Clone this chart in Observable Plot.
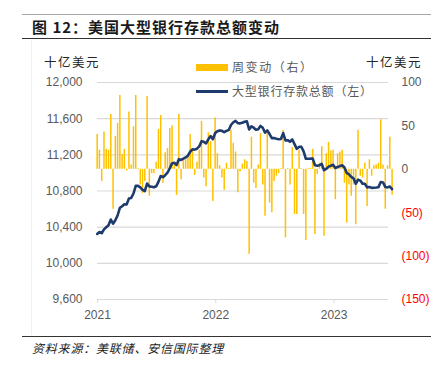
<!DOCTYPE html>
<html>
<head>
<meta charset="utf-8">
<script src="https://cdn.jsdelivr.net/npm/d3@7"></script>
<script src="https://cdn.jsdelivr.net/npm/@observablehq/plot@0.6"></script>
<style>
  html, body { margin: 0; padding: 0; background: #ffffff; }
  #wrap { position: relative; width: 431px; height: 371px; overflow: hidden; font-family: "Noto Sans CJK SC", sans-serif; }
  .abs { position: absolute; white-space: nowrap; }
  #chart { position: absolute; left: 0; top: 0; }
</style>
</head>
<body>
<div id="wrap">
  <div class="abs" style="left:22px;top:14px;width:409px;height:0;border-top:1.5px solid #a6a6a6;"></div>
  <div class="abs" id="title" style="left:32px;top:16px;font-size:15px;font-weight:bold;color:#1a1a1a;letter-spacing:1px;line-height:22px;">图 12：美国大型银行存款总额变动</div>
  <div class="abs" style="left:22px;top:38px;width:409px;height:0;border-top:1px solid #333;"></div>
  <div class="abs" style="left:31px;top:40px;width:0;height:295px;border-left:1px solid #f0f0f0;"></div>
  <div id="chart"></div>
  <div class="abs" style="left:44px;top:53px;font-size:12.5px;color:#262626;letter-spacing:1.5px;line-height:18px;">十亿美元</div>
  <div class="abs" style="left:366px;top:53px;font-size:12.5px;color:#262626;letter-spacing:1.5px;line-height:18px;">十亿美元</div>
  <div class="abs" style="left:196px;top:64px;width:32px;height:7px;background:#FFC000;"></div>
  <div class="abs" style="left:232px;top:58px;font-size:12px;color:#595959;letter-spacing:1.6px;line-height:18px;">周变动（右）</div>
  <div class="abs" style="left:196px;top:90px;width:32px;height:2.6px;background:#1F3B6E;"></div>
  <div class="abs" style="left:232px;top:82px;font-size:12px;color:#595959;letter-spacing:0.8px;line-height:18px;">大型银行存款总额（左）</div>
  <div class="abs" style="left:22px;top:336px;width:409px;height:0;border-top:1px solid #333;"></div>
  <div class="abs" style="left:32px;top:339px;font-size:12px;font-style:italic;color:#1a1a1a;letter-spacing:0.8px;line-height:18px;">资料来源：美联储、安信国际整理</div>
</div>
<script>
// ---- data ----
const startWeek = "2020-12-31";
const weeklyChange = [
  40, 22, -14, 43, 23, 22, 63, -46, 38, 53, 85, 17, 23, -2, 66, 5, 49, 85, 1, -18, -28, -14, 84, -31, -5, -5,
  8, 46, 62, -16, 19, 24, 47, 50, 5, -30, 63, -12, 11, 11, 17, 40, 24, -7, 8, 22, 55, -10, -20, 42, 32, -37,
  59, 18, 4, -10, -24, 7, 1, 45, 30, 20, -27, -3, 6, 11, 9, -98, 37, -16, -22, 5, 41, -18, -54, 43, -39, -50,
  -14, -8, -5, 1, 45, -79, 1, -18, 25, -52, -52, 22, 1, -52, -82, 1, 1, 23, -75, -6, 7, 26, -77, 18, 31, 21,
  22, -35, 18, 20, 22, -16, -62, -18, -31, -18, -64, 45, -8, -10, 7, -43, 11, -8, 4, 5, 7, 57, 5, -46, 4, 37, -30
];
const totalDeposits = [
  10325, 10347, 10333, 10376, 10399, 10421, 10484, 10438, 10476, 10529, 10614, 10631, 10654, 10652, 10718, 10723, 10772, 10857, 10858, 10840, 10812, 10798, 10882, 10851, 10846, 10841,
  10852, 10901, 10966, 10953, 10975, 11002, 11052, 11105, 11113, 11086, 11152, 11143, 11157, 11171, 11191, 11234, 11261, 11257, 11268, 11293, 11351, 11344, 11327, 11372, 11407, 11372,
  11440, 11460, 11470, 11465, 11450, 11465, 11475, 11530, 11560, 11575, 11550, 11548, 11555, 11565, 11570, 11480, 11515, 11500, 11478, 11482, 11520, 11500, 11445, 11470, 11430, 11385,
  11385, 11378, 11373, 11375, 11440, 11360, 11362, 11345, 11370, 11318, 11266, 11288, 11290, 11238, 11156, 11157, 11158, 11160, 11085, 11080, 11085, 11100, 11030, 11045, 11070, 11080,
  11090, 11055, 11065, 11075, 11085, 11060, 11000, 10985, 10955, 10940, 10880, 10925, 10915, 10880, 10880, 10840, 10845, 10835, 10836, 10838, 10842, 10900, 10895, 10845, 10840, 10850, 10820
];
const leftTicks = [9600, 10000, 10400, 10800, 11200, 11600, 12000];
const rightTicks = [100, 50, 0, -50, -100, -150];
const rightTickLabels = ["100", "50", "0", "(50)", "(100)", "(150)"];
const yearTicks = ["2021-01-01", "2022-01-01", "2023-01-01"];

// ---- build ----
const t0 = new Date(startWeek + "T00:00:00Z");
const data = weeklyChange.map((c, i) => ({
  date: d3.utcWeek.offset(t0, i),
  chg: c,
  dep: totalDeposits[i]
}));
// right axis (-150..100) mapped onto left axis (9600..12000)
const toLeft = v => 9600 + (v + 150) * 2400 / 250;
const rightLabelMap = new Map(rightTicks.map((v, i) => [Math.round(toLeft(v)), rightTickLabels[i]]));

const chart = Plot.plot({
  width: 431,
  height: 371,
  marginTop: 82,
  marginBottom: 72,
  marginLeft: 97,
  marginRight: 43,
  x: {type: "utc", domain: [new Date("2021-01-01T00:00:00Z"), new Date("2023-06-18T00:00:00Z")], label: null},
  y: {domain: [9600, 12000], label: null},
  style: {fontFamily: "'Liberation Sans', Arial, sans-serif", fontSize: "12px", color: "#595959", background: "transparent", overflow: "visible"},
  marks: [
    Plot.ruleY(leftTicks, {stroke: "#d9d9d9", strokeWidth: 1.2}),
    Plot.ruleX(data, {x: "date", y1: () => toLeft(0), y2: d => toLeft(d.chg), stroke: "#FFC000", strokeWidth: 1.5}),
    Plot.line(data, {x: "date", y: "dep", stroke: "#1F3B6E", strokeWidth: 2.6, curve: "linear"}),
    Plot.axisY(leftTicks, {anchor: "left", label: null, tickSize: 0, tickPadding: 15, tickFormat: d3.format(","), fill: "#595959"}),
    Plot.axisY(rightTicks.map(toLeft), {anchor: "right", label: null, tickSize: 0, tickPadding: 13, tickFormat: d => rightLabelMap.get(Math.round(d)), fill: "#595959"}),
    Plot.axisX(yearTicks.map(s => new Date(s + "T00:00:00Z")), {label: null, tickSize: 4, tickPadding: 7, tickFormat: d3.utcFormat("%Y"), stroke: "#d9d9d9", fill: "#595959"})
  ]
});
document.getElementById("chart").appendChild(chart);
// colour the negative right-axis labels red
chart.querySelectorAll("text").forEach(t => {
  if (/^\(/.test(t.textContent)) t.setAttribute("fill", "#FF0000");
});
</script>
</body>
</html>
